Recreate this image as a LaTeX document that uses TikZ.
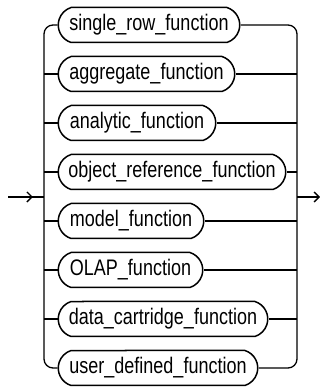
\documentclass[tikz,border=0pt]{standalone}
\usepackage{fontspec}
\setmainfont{Liberation Sans}[FakeStretch=0.80]
\usetikzlibrary{shapes.misc,arrows.meta,decorations.markings}
\begin{document}
\begin{tikzpicture}[x=1pt,y=1pt,
  term/.style={draw, line width=1.5pt, rounded rectangle, rounded rectangle arc length=145,
    minimum height=35pt, inner sep=0pt, font=\fontsize{22.5}{24}\selectfont, anchor=west},
  conn/.style={line width=1.3pt},
]
\useasboundingbox (0,0) rectangle (320,387);
\node[term, minimum width=181.5pt] (n1) at (57.5,362) {single\_row\_function};
\node[term, minimum width=176.5pt] (n2) at (57.5,313) {aggregate\_function};
\node[term, minimum width=157.5pt] (n3) at (57.5,264) {analytic\_function};
\node[term, minimum width=227.5pt] (n4) at (57.5,215) {object\_reference\_function};
\node[term, minimum width=145.5pt] (n5) at (57.5,166) {model\_function};
\node[term, minimum width=144.5pt] (n6) at (57.5,117) {OLAP\_function};
\node[term, minimum width=209.5pt] (n7) at (57.5,68) {data\_cartridge\_function};
\node[term, minimum width=199.5pt] (n8) at (57.5,19) {user\_defined\_function};
\coordinate (lb) at (44,190);
\coordinate (rb) at (297,190);
\coordinate (in) at (8,190);
\coordinate (out) at (320,190);
\draw[conn, rounded corners=9pt] (n1.west) -| (lb) |- (n8.west);
\draw[conn, rounded corners=9pt] (n1.east) -| (rb) |- (n8.east);
\foreach \nd in {n2,n3,n4,n5,n6,n7} {
  \draw[conn] (\nd.west) -- (\nd.west -| lb);
  \draw[conn] (\nd.east) -- (\nd.east -| rb);
}
\draw[conn, decoration={markings, mark=at position 0.69 with {\arrow{Straight Barb[length=5pt,width=10pt]}}}, postaction={decorate}] (in) -- (lb);
\draw[conn, -{Straight Barb[length=5pt,width=10pt]}] (rb) -- (out);
\end{tikzpicture}
\end{document}
